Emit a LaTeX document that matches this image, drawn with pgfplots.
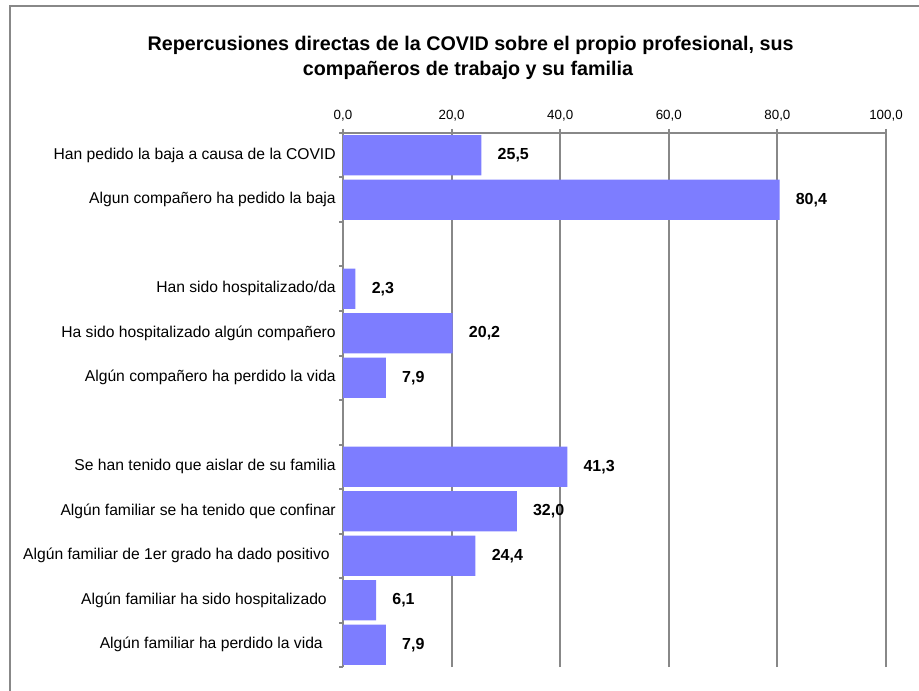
\documentclass[border=0pt]{standalone}
\usepackage{fontspec}
\setmainfont{Liberation Sans}
\usepackage{pgfplots}
\pgfplotsset{compat=1.18}
\definecolor{barcol}{RGB}{125,125,255}
\definecolor{gridgray}{RGB}{136,136,136}

\pgfplotstableread{
val pos
25.5 11
80.4 10
2.3 8
20.2 7
7.9 6
41.3 4
32.0 3
24.4 2
6.1 1
7.9 0
}\repdata

\begin{document}
\begin{tikzpicture}
% canvas 919x691 px, 1px = 0.75pt
\path[use as bounding box] (0,0) rectangle (689.25pt,-518.25pt);
\draw[gridgray, line width=1.5pt] (7.5pt,-518.25pt) -- (7.5pt,-4.5pt) -- (689.25pt,-4.5pt);

\node[anchor=base, font=\bfseries\fontsize{14.8}{16}\selectfont] at (353pt,-37.9pt)
  {Repercusiones directas de la COVID sobre el propio profesional, sus};
\node[anchor=base, font=\bfseries\fontsize{14.8}{16}\selectfont] at (351pt,-56.6pt)
  {compañeros de trabajo y su familia};

\begin{axis}[
  at={(257.25pt,-99.75pt)}, anchor=north west,
  scale only axis, width=407.25pt, height=400.5pt,
  xbar, bar width=0.9, clip=false,
  xmin=0, xmax=100, ymin=-0.5, ymax=11.5,
  axis x line=top, axis y line=left,
  axis line style={-, draw=gridgray, line width=1.5pt},
  xtick={0,20,...,100},
  xmajorgrids, grid style={draw=gridgray, line width=1.5pt},
  tick style={draw=gridgray, line width=1.5pt},
  tick align=outside, major tick length=3pt,
  /pgf/number format/.cd, fixed, fixed zerofill, precision=1, use comma, assume math mode=true,
  /pgfplots/.cd,
  xticklabel style={font=\fontsize{10}{11}\selectfont, inner sep=0pt, yshift=6pt},
  ytick={-0.5,0.5,...,11.5}, yticklabels={},
  extra y ticks={0,1,2,3,4,6,7,8,10,11},
  extra y tick labels={
    Algún familiar ha perdido la vida\rule{9.75pt}{0pt},
    Algún familiar ha sido hospitalizado\rule{6.75pt}{0pt},
    Algún familiar de 1er grado ha dado positivo\rule{4.5pt}{0pt},
    Algún familiar se ha tenido que confinar,
    Se han tenido que aislar de su familia,
    Algún compañero ha perdido la vida,
    Ha sido hospitalizado algún compañero,
    Han sido hospitalizado/da,
    Algun compañero ha pedido la baja,
    Han pedido la baja a causa de la COVID},
  extra y tick style={major tick length=0pt,
    yticklabel style={font=\fontsize{11.75}{13}\selectfont, inner sep=0pt, xshift=-5.25pt}},
  nodes near coords={\pgfmathprintnumber[fixed, fixed zerofill, precision=1, use comma, assume math mode=true]{\pgfplotspointmeta}},
  every node near coord/.append style={anchor=west, inner sep=0pt, xshift=12pt,
    font=\bfseries\fontsize{12}{13}\selectfont},
]
\addplot[fill=barcol, draw=none] table[x=val, y=pos] {\repdata};
\end{axis}
\end{tikzpicture}
\end{document}
